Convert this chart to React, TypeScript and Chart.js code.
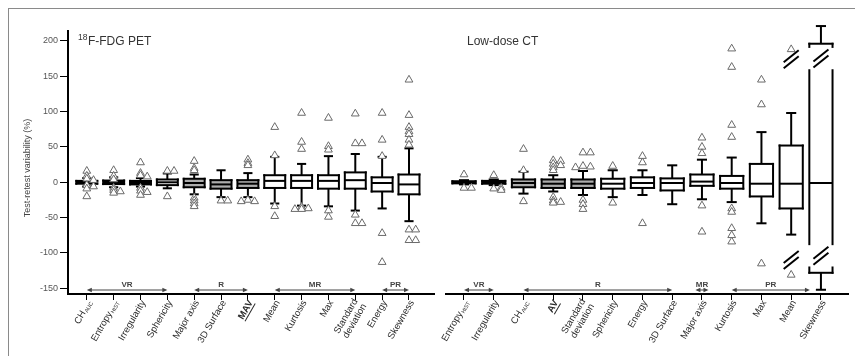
import React, { useEffect, useRef } from "react";
import { Chart, registerables } from "chart.js";

Chart.register(...registerables);

const FONT = '"Liberation Sans", Arial, Helvetica, sans-serif';

// ---------- shared y axis ----------
const Y_MIN = -158;
const Y_MAX = 214;
const Y_TICKS = [-150, -100, -50, 0, 50, 100, 150, 200];
const Y_TITLE = "Test-retest variability (%)";

// ---------- 18F-FDG PET panel ----------
const petCategories = [
  "CH_AUC", "Entropy_HIST", "Irregularity", "Sphericity", "Major axis", "3D Surface", "MAV",
  "Mean", "Kurtosis", "Max", "Standard\ndeviation", "Energy", "Skewness",
];
const petWhiskerLow = [-6, -7, -6, -8.5, -17, -21, -21, -30, -33, -34, -40, -37, -55];
const petQ1 = [-2, -2.5, -3, -4, -7, -9, -8, -8, -8, -9, -9, -13, -17];
const petMedian = [0, 0, -1, 0, -1, -3, -2, 2, 2, 2, 3, -1, -3];
const petQ3 = [2, 2.5, 2, 4, 5, 3, 3, 10, 10, 10, 14, 7, 11];
const petWhiskerHigh = [6, 7, 6, 12.5, 11, 17, 13, 36, 26, 37, 40, 36, 48];
const petOutliers = [
  [16, 9, 5, 3, -4, -6, -9, -20],
  [17, 9, 4, -8, -11, -13, -15],
  [28, 13, 10, 8, -8, -12, -14, -18],
  [16, 16, -20],
  [30, 20, 17, -22, -26, -30, -34],
  [-26, -26],
  [32, 27, 24, -25, -27, -27],
  [78, 38, -34, -48],
  [98, 57, 47, -35, -37, -38, -38],
  [91, 51, 46, -40, -49],
  [97, 55, 55, -46, -58, -58],
  [98, 60, 37, -72, -113],
  [145, 95, 78, 72, 68, 60, 53, -67, -67, -82, -82],
];
const petGroupNames = ["VR", "R", "MR", "PR"];
const petGroupStart = [0, 4, 7, 11];
const petGroupEnd = [3, 6, 10, 12];
const petEmphasis = ["MAV"];
const petBreakCategory: number[] = [];
const petBreakValue: number[] = [];

// ---------- Low-dose CT panel ----------
const ctCategories = [
  "Entropy_HIST", "Irregularity", "CH_AUC", "AV", "Standard\ndeviation", "Sphericity", "Energy",
  "3D Surface", "Major axis", "Kurtosis", "Max", "Mean", "Skewness",
];
const ctWhiskerLow = [-3, -4, -16, -13, -18, -21, -18, -31, -24, -28, -58, -74, -152];
const ctQ1 = [-1.5, -2, -7, -8, -8, -9, -8, -11.5, -5, -9, -20, -37, -128];
const ctMedian = [0, 0, -1, -2, -2, -2, -1, -1, 1, -1, -2, -2, -1];
const ctQ3 = [1.5, 2, 4, 4, 4, 5, 7, 5.5, 11, 9, 26, 52, 196];
const ctWhiskerHigh = [3, 4, 15, 10, 16, 17, 17, 24, 32, 35, 71, 98, 221];
const ctOutliers = [
  [11, -8, -8],
  [10, -9, -8, -11],
  [47, 17, -27],
  [31, 30, 26, 24, 21, 17, -21, -26, -28, -29],
  [42, 42, 23, 22, 21, -25, -31, -38],
  [23, -29],
  [37, 28, -58],
  [],
  [63, 50, 41, -33, -70],
  [189, 163, 81, 64, -37, -42, -65, -75, -84],
  [145, 110, -115],
  [188, -131],
  [],
];
const ctGroupNames = ["VR", "R", "MR", "PR"];
const ctGroupStart = [0, 2, 8, 9];
const ctGroupEnd = [1, 7, 8, 11.63];
const ctEmphasis = ["AV"];
// axis-break marks (category index, value)
const ctBreakCategory = [11, 11, 12, 12];
const ctBreakValue = [174, -110, 175, -104];

// ---------- styles ----------
const BLACK = "#000000";
const GRAY = "#acacac";
const WHITE = "#ffffff";
const petBoxFill = [BLACK, BLACK, BLACK, WHITE, GRAY, GRAY, GRAY, WHITE, WHITE, WHITE, WHITE, WHITE, WHITE];
const ctBoxFill = [BLACK, BLACK, GRAY, GRAY, GRAY, WHITE, WHITE, WHITE, WHITE, WHITE, WHITE, WHITE, WHITE];

const BOX_HALF = 0.39;
const CAP_HALF = 0.17;
const BREAK_GAP = 16.5;
const JITTER = [0, 0.25, -0.25, 0.5, -0.5];
const MIN_GAP = 3;
const X_AXIS_HEIGHT = 62;
const Y_AXIS_WIDTH = 68;
const LABEL_ANGLE = (60 * Math.PI) / 180;

type Panel = {
  categories: string[];
  lo: number[];
  q1: number[];
  med: number[];
  q3: number[];
  hi: number[];
  outliers: number[][];
  fills: string[];
  groupNames: string[];
  groupStart: number[];
  groupEnd: number[];
  emphasis: string[];
  breakCat: number[];
  breakVal: number[];
  xMin: number;
  xMax: number;
  title: string;
  titleSup: string;
  titleOffset: number;
  showY: boolean;
};

const petPanel: Panel = {
  categories: petCategories,
  lo: petWhiskerLow,
  q1: petQ1,
  med: petMedian,
  q3: petQ3,
  hi: petWhiskerHigh,
  outliers: petOutliers,
  fills: petBoxFill,
  groupNames: petGroupNames,
  groupStart: petGroupStart,
  groupEnd: petGroupEnd,
  emphasis: petEmphasis,
  breakCat: petBreakCategory,
  breakVal: petBreakValue,
  xMin: -0.7,
  xMax: 12.95,
  title: "F-FDG PET",
  titleSup: "18",
  titleOffset: 10,
  showY: true,
};

const ctPanel: Panel = {
  categories: ctCategories,
  lo: ctWhiskerLow,
  q1: ctQ1,
  med: ctMedian,
  q3: ctQ3,
  hi: ctWhiskerHigh,
  outliers: ctOutliers,
  fills: ctBoxFill,
  groupNames: ctGroupNames,
  groupStart: ctGroupStart,
  groupEnd: ctGroupEnd,
  emphasis: ctEmphasis,
  breakCat: ctBreakCategory,
  breakVal: ctBreakValue,
  xMin: -0.605,
  xMax: 12.91,
  title: "Low-dose CT",
  titleSup: "",
  titleOffset: 21,
  showY: false,
};

function placeOutliers(outliers: number[][]) {
  const pts: { x: number; y: number }[] = [];
  outliers.forEach((list, i) => {
    const placed: { dx: number; v: number }[] = [];
    list.forEach((v) => {
      let dx = JITTER.find((d) => placed.every((p) => p.dx !== d || Math.abs(p.v - v) >= MIN_GAP));
      if (dx === undefined) dx = 0;
      placed.push({ dx, v });
      pts.push({ x: i + dx, y: v });
    });
  });
  return pts;
}

function sideSegments(p: Panel, i: number): [number, number][] {
  let segs: [number, number][] = [[p.q1[i], p.q3[i]]];
  p.breakCat.forEach((c, k) => {
    if (c !== i) return;
    const g0 = p.breakVal[k] - BREAK_GAP;
    const g1 = p.breakVal[k] + BREAK_GAP;
    const next: [number, number][] = [];
    segs.forEach(([a, b]) => {
      if (g1 <= a || g0 >= b) {
        next.push([a, b]);
      } else {
        if (g0 > a) next.push([a, g0]);
        if (g1 < b) next.push([g1, b]);
      }
    });
    segs = next;
  });
  return segs;
}

function drawLabel(ctx: CanvasRenderingContext2D, label: string, x: number, y: number, emph: boolean) {
  const lines = label.split("\n");
  const lh = 10;
  ctx.save();
  ctx.translate(x, y);
  ctx.rotate(-LABEL_ANGLE);
  ctx.fillStyle = "#2a2a2a";
  ctx.strokeStyle = "#2a2a2a";
  ctx.textBaseline = "middle";
  ctx.textAlign = "left";
  lines.forEach((line, li) => {
    const off = lines.length > 1 ? li * lh - 3 : 0;
    const parts = line.split("_");
    const main = parts[0];
    const sub = parts[1] || "";
    const mainFont = (emph ? "bold " : "") + "9.5px " + FONT;
    const subFont = "5.5px " + FONT;
    ctx.font = mainFont;
    const wm = ctx.measureText(main).width;
    ctx.font = subFont;
    const ws = sub ? ctx.measureText(sub).width + 0.5 : 0;
    const start = -(wm + ws);
    ctx.font = mainFont;
    ctx.fillText(main, start, off);
    if (sub) {
      ctx.font = subFont;
      ctx.fillText(sub, start + wm + 0.5, off + 2.5);
    }
    if (emph) {
      ctx.lineWidth = 1;
      ctx.beginPath();
      ctx.moveTo(start, off + 5);
      ctx.lineTo(start + wm, off + 5);
      ctx.stroke();
    }
  });
  ctx.restore();
}

function makePanelPlugin(p: Panel) {
  return {
    id: "panel-" + p.title.replace(/\W/g, ""),
    beforeDatasetsDraw(chart: any) {
      const ctx: CanvasRenderingContext2D = chart.ctx;
      const xs = chart.scales.x;
      const ys = chart.scales.y;
      const X = (v: number) => xs.getPixelForValue(v);
      const Y = (v: number) => ys.getPixelForValue(v);
      const seg = (x1: number, y1: number, x2: number, y2: number) => {
        ctx.beginPath();
        ctx.moveTo(x1, y1);
        ctx.lineTo(x2, y2);
        ctx.stroke();
      };
      ctx.save();
      ctx.strokeStyle = "#000";
      ctx.lineWidth = 2;
      p.categories.forEach((_, i) => {
        const xc = X(i);
        const xl = X(i - BOX_HALF);
        const xr = X(i + BOX_HALF);
        const cl = X(i - CAP_HALF);
        const cr = X(i + CAP_HALF);
        const yq1 = Y(p.q1[i]);
        const yq3 = Y(p.q3[i]);
        const yhi = Y(p.hi[i]);
        const ylo = Y(p.lo[i]);
        ctx.lineCap = "butt";
        seg(xc, yq3, xc, yhi);
        seg(cl, yhi, cr, yhi);
        seg(xc, yq1, xc, ylo);
        seg(cl, ylo, cr, ylo);
        ctx.fillStyle = p.fills[i];
        ctx.fillRect(xl, yq3, xr - xl, yq1 - yq3);
        ctx.lineCap = "square";
        seg(xl, yq3, xr, yq3);
        seg(xl, yq1, xr, yq1);
        sideSegments(p, i).forEach(([a, b]) => {
          seg(xl, Y(a), xl, Y(b));
          seg(xr, Y(a), xr, Y(b));
        });
        ctx.lineCap = "butt";
        seg(xl, Y(p.med[i]), xr, Y(p.med[i]));
      });
      ctx.restore();
    },
    afterDraw(chart: any) {
      const ctx: CanvasRenderingContext2D = chart.ctx;
      const xs = chart.scales.x;
      const ys = chart.scales.y;
      const area = chart.chartArea;
      const X = (v: number) => xs.getPixelForValue(v);
      const Y = (v: number) => ys.getPixelForValue(v);
      ctx.save();

      // break marks
      ctx.strokeStyle = "#000";
      ctx.lineWidth = 2;
      p.breakCat.forEach((c, k) => {
        const cx = X(c);
        const cy = Y(p.breakVal[k]);
        [-3, 3].forEach((o) => {
          ctx.beginPath();
          ctx.moveTo(cx - 7.5, cy + 6 + o);
          ctx.lineTo(cx + 7.5, cy - 6 + o);
          ctx.stroke();
        });
      });

      // group arrows
      const yA = area.bottom - 4;
      ctx.strokeStyle = "#444";
      ctx.fillStyle = "#444";
      ctx.lineWidth = 1;
      p.groupNames.forEach((name, g) => {
        let s = p.groupStart[g];
        let e = p.groupEnd[g];
        if (s === e) {
          s -= 0.22;
          e += 0.22;
        }
        const x1 = X(s);
        const x2 = X(e);
        ctx.beginPath();
        ctx.moveTo(x1 + 2, yA);
        ctx.lineTo(x2 - 2, yA);
        ctx.stroke();
        ctx.beginPath();
        ctx.moveTo(x1, yA);
        ctx.lineTo(x1 + 5, yA - 2.2);
        ctx.lineTo(x1 + 5, yA + 2.2);
        ctx.closePath();
        ctx.fill();
        ctx.beginPath();
        ctx.moveTo(x2, yA);
        ctx.lineTo(x2 - 5, yA - 2.2);
        ctx.lineTo(x2 - 5, yA + 2.2);
        ctx.closePath();
        ctx.fill();
        ctx.font = "bold 8px " + FONT;
        ctx.textAlign = "center";
        ctx.textBaseline = "alphabetic";
        ctx.fillText(name, (x1 + x2) / 2, yA - 3.5);
      });

      // category labels
      p.categories.forEach((label, i) => {
        drawLabel(ctx, label, X(i) + 3, area.bottom + 7, p.emphasis.includes(label));
      });

      // panel title
      ctx.fillStyle = "#333";
      ctx.textAlign = "left";
      ctx.textBaseline = "alphabetic";
      let tx = area.left + p.titleOffset;
      if (p.titleSup) {
        ctx.font = "8.5px " + FONT;
        ctx.fillText(p.titleSup, tx, 40);
        tx += ctx.measureText(p.titleSup).width + 0.5;
      }
      ctx.font = "12px " + FONT;
      ctx.fillText(p.title, tx, 44.5);

      // y title
      if (p.showY) {
        ctx.save();
        ctx.translate(28, 168);
        ctx.rotate(-Math.PI / 2);
        ctx.font = "9px " + FONT;
        ctx.fillStyle = "#444";
        ctx.textAlign = "center";
        ctx.textBaseline = "middle";
        ctx.fillText(Y_TITLE, 0, 0);
        ctx.restore();
      }
      ctx.restore();
    },
  };
}

function createChart(canvas: HTMLCanvasElement, p: Panel, padding: any) {
  return new Chart(canvas, {
    type: "scatter",
    data: {
      datasets: [
        {
          data: placeOutliers(p.outliers),
          showLine: false,
          pointStyle: "triangle",
          pointRadius: 4.5,
          pointBorderWidth: 1,
          pointBorderColor: "#6a6a6a",
          pointBackgroundColor: "#ffffff",
          clip: false,
        } as any,
      ],
    },
    options: {
      animation: false,
      responsive: false,
      events: [],
      layout: { padding },
      plugins: { legend: { display: false }, tooltip: { enabled: false }, title: { display: false } },
      scales: {
        x: {
          type: "linear",
          min: p.xMin,
          max: p.xMax,
          afterBuildTicks: (s: any) => {
            s.ticks = p.categories.map((_, i) => ({ value: i }));
          },
          afterFit: (s: any) => {
            s.height = X_AXIS_HEIGHT;
          },
          ticks: { display: false },
          grid: { display: true, drawOnChartArea: false, drawTicks: true, tickLength: 6, color: "#000", lineWidth: 1 },
          border: { display: true, color: "#000", width: 2 },
        },
        y: {
          type: "linear",
          display: p.showY,
          min: Y_MIN,
          max: Y_MAX,
          afterBuildTicks: (s: any) => {
            s.ticks = Y_TICKS.map((v) => ({ value: v }));
          },
          afterFit: (s: any) => {
            s.width = p.showY ? Y_AXIS_WIDTH : 0;
          },
          ticks: { font: { family: FONT, size: 9 }, color: "#555", padding: 2 },
          grid: { display: true, drawOnChartArea: false, drawTicks: true, tickLength: 8, color: "#000", lineWidth: 1 },
          border: { display: true, color: "#000", width: 2 },
        },
      },
    } as any,
    plugins: [makePanelPlugin(p) as any],
  });
}

export default function App() {
  const leftRef = useRef<HTMLCanvasElement>(null);
  const rightRef = useRef<HTMLCanvasElement>(null);

  useEffect(() => {
    if (!leftRef.current || !rightRef.current) return;
    const c1 = createChart(leftRef.current, petPanel, { top: 31, left: 0, right: 3, bottom: 0 });
    const c2 = createChart(rightRef.current, ctPanel, { top: 31, left: 6, right: 7, bottom: 0 });
    return () => {
      c1.destroy();
      c2.destroy();
    };
  }, []);

  return (
    <div style={{ position: "fixed", left: 0, top: 0, width: 855, height: 356, background: "#fff", overflow: "hidden" }}>
      <div
        style={{
          position: "absolute",
          left: 8,
          top: 8,
          width: 847,
          height: 348,
          borderLeft: "1px solid #8a8a8a",
          borderTop: "1px solid #8a8a8a",
        }}
      />
      <canvas ref={leftRef} width={440} height={356} style={{ position: "absolute", left: 0, top: 0, display: "block" }} />
      <canvas ref={rightRef} width={415} height={356} style={{ position: "absolute", left: 440, top: 0, display: "block" }} />
    </div>
  );
}
